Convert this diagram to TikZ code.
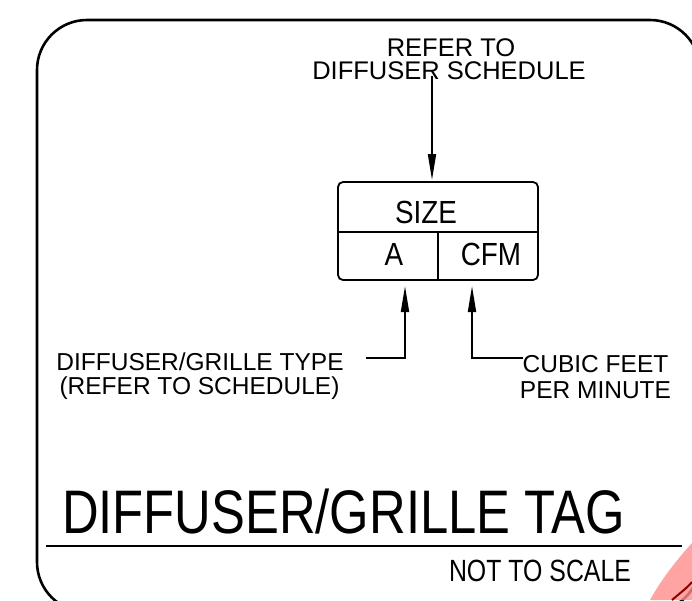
\documentclass[tikz,border=0pt]{standalone}
\usepackage{fontspec}
\setmainfont{Liberation Sans}
\usetikzlibrary{arrows.meta}
\begin{document}
\begin{tikzpicture}[x=1pt,y=-1pt,
  lbl/.style={inner sep=0pt, anchor=base, font=\fontsize{24.5}{24}\selectfont},
  toplbl/.style={inner sep=0pt, anchor=base, font=\fontsize{25.5}{24}\selectfont},
  boxtxt/.style={inner sep=0pt, anchor=base, font=\fontsize{32}{32}\selectfont},
  arr/.style={line width=1.8pt, -{Triangle[length=26pt,width=8pt]}},
  frame/.style={line width=2.6pt, rounded corners=50pt}]
\useasboundingbox (0,0) rectangle (692,600);
\begin{scope}
  \clip (0,0) rectangle (692,600);
  \draw[frame] (37,20) rectangle (700,612);
  \fill[red!45!white, opacity=0.8] (650,600) .. controls (662,578) and (680,556) .. (692,543) -- (692,600) -- cycle;
  \draw[line width=2pt, red!55!black] (672,600) .. controls (680,593) and (687,588) .. (692,582);
\end{scope}
% top label
\node[toplbl] (ref1) at (451,56) {REFER TO};
\node[toplbl] (ref2) at (449,79) {DIFFUSER SCHEDULE};
% tag box
\node[draw, line width=1.8pt, rounded corners=5pt, minimum width=200pt, minimum height=98pt, inner sep=0pt] (tag) at (438,231) {};
\coordinate (midL) at (338,232);
\coordinate (midR) at (538,232);
\coordinate (divT) at (438,232);
\draw[line width=1.8pt] (midL) -- (midR);
\draw[line width=1.8pt] (divT) -- (divT |- tag.south);
\node[boxtxt] (size) at (426,223) {\scalebox{0.87}[1]{SIZE}};
\node[boxtxt] (typeA) at (394,265) {\scalebox{0.87}[1]{A}};
\node[boxtxt] (cfm) at (491,265) {\scalebox{0.87}[1]{CFM}};
% top arrow
\coordinate (topstart) at (432,76);
\coordinate (toptip) at (432,180);
\draw[arr] (topstart) -- (toptip);
% left label and leader
\node[lbl] (type1) at (200,370) {DIFFUSER/GRILLE TYPE};
\node[lbl] (type2) at (199.5,394) {(REFER TO SCHEDULE)};
\coordinate (lstart) at (366,358);
\coordinate (lcorner) at (405,358);
\coordinate (ltip) at (405,286);
\draw[arr] (lstart) -- (lcorner) -- (ltip);
% right label and leader
\node[lbl] (cubic1) at (595.5,372) {CUBIC FEET};
\node[lbl] (cubic2) at (595.5,398) {PER MINUTE};
\coordinate (rstart) at (523,358);
\coordinate (rcorner) at (472,358);
\coordinate (rtip) at (472,286);
\draw[arr] (rstart) -- (rcorner) -- (rtip);
% title
\node[inner sep=0pt, anchor=base west, font=\fontsize{61.5}{62}\selectfont] (title) at (62,533) {\scalebox{0.825}[1]{DIFFUSER/GRILLE TAG}};
\coordinate (ruleL) at (46,546);
\coordinate (ruleR) at (682,546);
\draw[line width=2pt] (ruleL) -- (ruleR);
\node[inner sep=0pt, anchor=base, font=\fontsize{30.7}{31}\selectfont] (nts) at (540,581) {\scalebox{0.81}[1]{NOT TO SCALE}};
\end{tikzpicture}
\end{document}
